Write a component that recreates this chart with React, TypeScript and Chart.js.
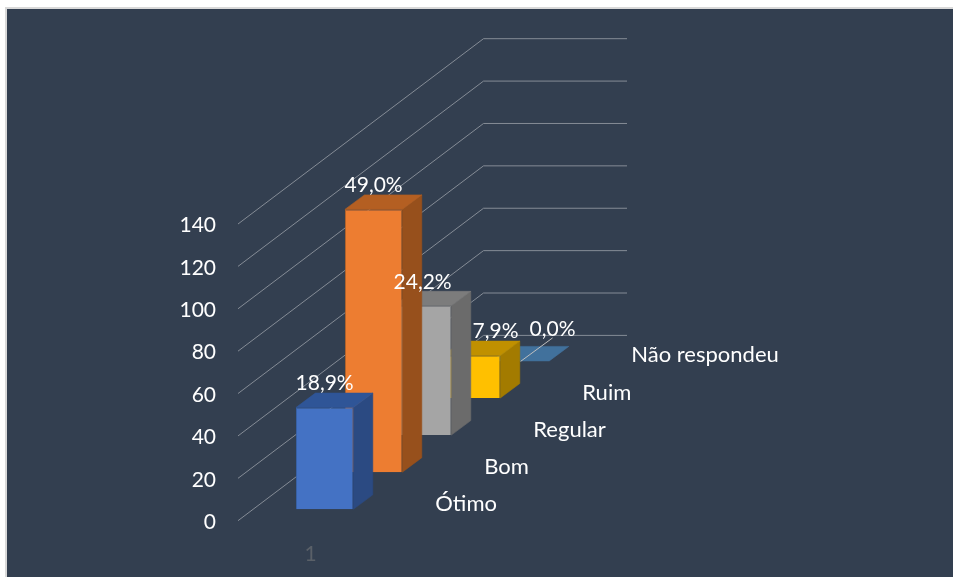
import React, { useEffect, useRef } from "react";
import { Chart, registerables } from "chart.js";

Chart.register(...registerables);

const xCategories = ["1"];
const seriesNames = ["Ótimo", "Bom", "Regular", "Ruim", "Não respondeu"];
const seriesValues = [48, 124, 61, 20, 0];
const percentLabels = ["18,9%", "49,0%", "24,2%", "7,9%", "0,0%"];
const yTicks = [0, 20, 40, 60, 80, 100, 120, 140];

const frontColors = ["#4472C4", "#ED7D31", "#A5A5A5", "#FFC000", "#5B9BD5"];
const edgeColors = ["#3A62A8", "#B5652A", "#8A8A8A", "#BF9000", "#41719C"];
const sideColors = ["#2B4A82", "#97501C", "#6B6B6B", "#A37B00", "#3A658D"];
const topColors = ["#2F5597", "#B45F22", "#7C7C7C", "#C09000", "#41719C"];
const labelShift = [
  [0, -24],
  [0, -24],
  [0, -24],
  [24, -24],
  [32, -32],
];

const FONT = "Lato, Carlito, sans-serif";
const STEP_Y = -37.1;
const FRONT_Y = -11.4;
const DEPTH_X = 19.5;
const DEPTH_Y = -14.5;
const GRID_DX = 245.5;
const GRID_DY = -185.3;
const GRID_END = 627;
const TICK_NUDGE = 1.5;

const poly = (ctx: CanvasRenderingContext2D, pts: number[][], fill: string, stroke: string) => {
  ctx.beginPath();
  pts.forEach((p, i) => (i ? ctx.lineTo(p[0], p[1]) : ctx.moveTo(p[0], p[1])));
  ctx.closePath();
  ctx.fillStyle = fill;
  ctx.fill();
  ctx.strokeStyle = stroke;
  ctx.lineWidth = 0.6;
  ctx.stroke();
};

const depthPlugin = {
  id: "depth",
  beforeDraw(chart: any) {
    const { ctx, width, height } = chart;
    ctx.save();
    ctx.fillStyle = "#ffffff";
    ctx.fillRect(0, 0, width, height);
    ctx.fillStyle = "#D9D9D9";
    ctx.fillRect(5, 7, width - 5, height - 7);
    ctx.fillStyle = "#333F50";
    ctx.fillRect(7, 9, width - 7, height - 9);
    ctx.restore();
    chart.scales.y.getLabelItems().forEach((item: any) => {
      if (!item.nudged) {
        item.options.translation[1] += TICK_NUDGE;
        item.nudged = true;
      }
    });
  },
  beforeDatasetsDraw(chart: any) {
    const { ctx, chartArea, scales } = chart;
    ctx.save();
    ctx.strokeStyle = "#858C96";
    ctx.lineWidth = 1;
    scales.y.ticks.forEach((t: any) => {
      const y = scales.y.getPixelForValue(t.value);
      ctx.beginPath();
      ctx.moveTo(chartArea.left, y);
      ctx.lineTo(chartArea.left + GRID_DX, y + GRID_DY);
      ctx.lineTo(GRID_END, y + GRID_DY);
      ctx.stroke();
    });
    ctx.restore();
  },
  beforeDatasetDraw(chart: any, args: any) {
    chart.ctx.save();
    chart.ctx.translate(0, FRONT_Y + STEP_Y * args.index);
  },
  afterDatasetDraw(chart: any, args: any) {
    const ctx = chart.ctx;
    const el = args.meta.data[0];
    const l = el.x - el.width / 2;
    const r = el.x + el.width / 2;
    const i = args.index;
    if (el.base - el.y > 0.5) {
      poly(ctx, [[r, el.y], [r + DEPTH_X, el.y + DEPTH_Y], [r + DEPTH_X, el.base + DEPTH_Y], [r, el.base]], sideColors[i], sideColors[i]);
    }
    poly(ctx, [[l, el.y], [l + DEPTH_X, el.y + DEPTH_Y], [r + DEPTH_X, el.y + DEPTH_Y], [r, el.y]], topColors[i], topColors[i]);
    ctx.restore();
  },
  afterDatasetsDraw(chart: any) {
    const ctx = chart.ctx;
    ctx.save();
    ctx.fillStyle = "#ffffff";
    ctx.textBaseline = "middle";
    seriesNames.forEach((name, i) => {
      const el = chart.getDatasetMeta(i).data[0];
      const off = FRONT_Y + STEP_Y * i;
      const right = el.x + el.width / 2;
      ctx.textAlign = "left";
      ctx.font = `22px ${FONT}`;
      ctx.fillText(name, right + 82, el.base + off - 5.5);
      const [dx, dy] = labelShift[i];
      if (seriesValues[i] === 0) {
        ctx.strokeStyle = "#BFBFBF";
        ctx.lineWidth = 1;
        ctx.beginPath();
        ctx.moveTo(el.x, el.y + off + 0.5);
        ctx.lineTo(el.x + dx, el.y + off + dy + 9);
        ctx.stroke();
      }
      ctx.textAlign = "center";
      ctx.font = `21px ${FONT}`;
      ctx.fillText(percentLabels[i], el.x + dx, el.y + off + dy);
    });
    ctx.restore();
  },
};

export default function App() {
  const ref = useRef<HTMLCanvasElement>(null);
  useEffect(() => {
    const chart = new Chart(ref.current as HTMLCanvasElement, {
      type: "bar",
      data: {
        labels: xCategories,
        datasets: seriesNames.map((name, i) => ({
          label: name,
          data: [seriesValues[i]],
          backgroundColor: frontColors[i],
          borderColor: edgeColors[i],
          borderWidth: 1,
          categoryPercentage: 0.6636,
          barPercentage: 1.171,
          clip: false,
        })),
      },
      options: {
        responsive: false,
        animation: false,
        events: [],
        layout: { padding: { left: 0, top: 224, right: 345.8, bottom: 0 } },
        plugins: { legend: { display: false }, tooltip: { enabled: false } },
        scales: {
          x: {
            type: "category",
            grid: { display: false },
            border: { display: false },
            ticks: {
              color: "#5A6068",
              font: { family: FONT, size: 21 },
              labelOffset: -112,
              padding: 13,
              maxRotation: 0,
            },
            afterFit: (s: any) => {
              s.height = 56.3;
            },
          },
          y: {
            type: "linear",
            min: 0,
            max: yTicks[yTicks.length - 1],
            grid: { display: false },
            border: { display: false },
            ticks: {
              stepSize: yTicks[1] - yTicks[0],
              color: "#ffffff",
              font: { family: FONT, size: 21 },
              padding: 14,
            },
            afterFit: (s: any) => {
              s.width = 238;
            },
          },
        },
      },
      plugins: [depthPlugin],
    } as any);
    return () => chart.destroy();
  }, []);
  return (
    <div style={{ position: "absolute", left: 0, top: 0, width: 953, height: 577 }}>
      <canvas ref={ref} width={953} height={577} style={{ display: "block" }} />
    </div>
  );
}
